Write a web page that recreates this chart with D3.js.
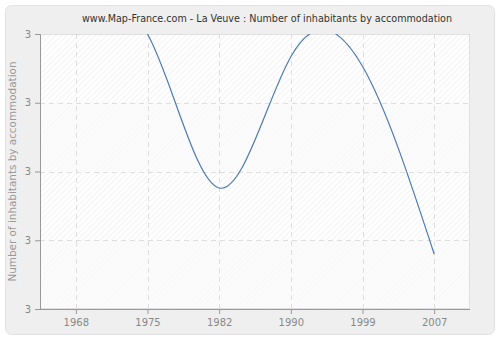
<!DOCTYPE html>
<html><head><meta charset="utf-8">
<script src="https://cdn.jsdelivr.net/npm/d3@7/dist/d3.min.js"></script>
<style>body{margin:0;background:#fff}svg{display:block}</style>
</head><body>
<svg id="c" width="500" height="340"></svg>
<script>
const years = ["1968","1975","1982","1990","1999","2007"];
const values = [3.0, 3.0, 2.776, 2.967, 2.953, 2.68];
const yTicks = [2.6, 2.7, 2.8, 2.9, 3.0];
const yDomain = [2.6, 3.0];
const title = "www.Map-France.com - La Veuve : Number of inhabitants by accommodation";
const yTitle = "Number of inhabitants by accommodation";

const svg = d3.select("#c");
const font = "DejaVu Sans, Verdana, sans-serif";
const L = 40, R = 470, T = 34, B = 309;

const defs = svg.append("defs");
const pat = defs.append("pattern").attr("id","hatch").attr("patternUnits","userSpaceOnUse")
  .attr("width",4).attr("height",4).attr("patternTransform","rotate(45)");
pat.append("rect").attr("width",4).attr("height",4).attr("fill","#ffffff");
pat.append("line").attr("x1",0).attr("y1",0).attr("x2",0).attr("y2",4).attr("stroke","#ebebeb").attr("stroke-width",1.2);
defs.append("clipPath").attr("id","clip").append("rect").attr("x",L).attr("y",T).attr("width",R-L).attr("height",B-T);

// panel
svg.append("rect").attr("x",5.5).attr("y",5.5).attr("width",489).attr("height",329).attr("rx",6)
  .attr("fill","#efefef").attr("stroke","#e2e2e2");

const x = d3.scalePoint().domain(years).range([L,R]).padding(0.5);
const y = d3.scaleLinear().domain(yDomain).range([B,T]);

// plot background
svg.append("rect").attr("x",L).attr("y",T).attr("width",R-L).attr("height",B-T).attr("fill","url(#hatch)");
// alternate bands
for (let i = 0; i < yTicks.length-1; i++) {
  if (i % 2 === 0) {
    svg.append("rect").attr("x",L).attr("y",y(yTicks[i+1])).attr("width",R-L)
      .attr("height",y(yTicks[i])-y(yTicks[i+1])).attr("fill","#fafafa").attr("opacity",0.75);
  }
}
svg.append("rect").attr("x",L+0.5).attr("y",T+0.5).attr("width",R-L-1).attr("height",B-T-1)
  .attr("fill","none").attr("stroke","#e0e0e0");

// grid
const g = svg.append("g").attr("stroke","#dedede").attr("stroke-dasharray","5,4").attr("stroke-width",1);
years.forEach(d => g.append("line").attr("x1",Math.round(x(d))+0.5).attr("x2",Math.round(x(d))+0.5).attr("y1",T).attr("y2",B));
yTicks.slice(1,-1).forEach(v => g.append("line").attr("x1",L).attr("x2",R).attr("y1",Math.round(y(v))+0.5).attr("y2",Math.round(y(v))+0.5));

// line
const line = d3.line().x((d,i)=>x(years[i])).y(d=>y(d)).curve(d3.curveNatural);
svg.append("path").datum(values).attr("d",line).attr("clip-path","url(#clip)")
  .attr("fill","none").attr("stroke","#4d7ab5").attr("stroke-width",1.2);

// axes
const ya = svg.append("g").attr("transform",`translate(${L},0)`)
  .call(d3.axisLeft(y).tickValues(yTicks).tickFormat(d3.format(".0f")).tickSize(5).tickPadding(4));
const xa = svg.append("g").attr("transform",`translate(0,${B})`)
  .call(d3.axisBottom(x).tickSize(5).tickPadding(5));
[ya,xa].forEach(a=>{
  a.selectAll(".domain").attr("stroke","#999");
  a.selectAll(".tick line").attr("stroke","#999");
  a.selectAll("text").attr("fill","#888").attr("font-family",font).attr("font-size",10);
});
ya.select(".domain").attr("d",`M-5,${T+0.5}H0.5V${B+0.5}`);
xa.select(".domain").attr("d",`M${L},0.5H${R}`);

svg.append("text").attr("x",267).attr("y",22).attr("text-anchor","middle")
  .attr("font-family",font).attr("font-size",10).attr("fill","#333")
  .attr("textLength",370).attr("lengthAdjust","spacingAndGlyphs").text(title);
svg.append("text").attr("transform",`translate(16,${(T+B)/2}) rotate(-90)`).attr("text-anchor","middle")
  .attr("font-family",font).attr("font-size",10).attr("fill","#999")
  .attr("textLength",220).attr("lengthAdjust","spacingAndGlyphs").text(yTitle);
</script>
</body></html>
